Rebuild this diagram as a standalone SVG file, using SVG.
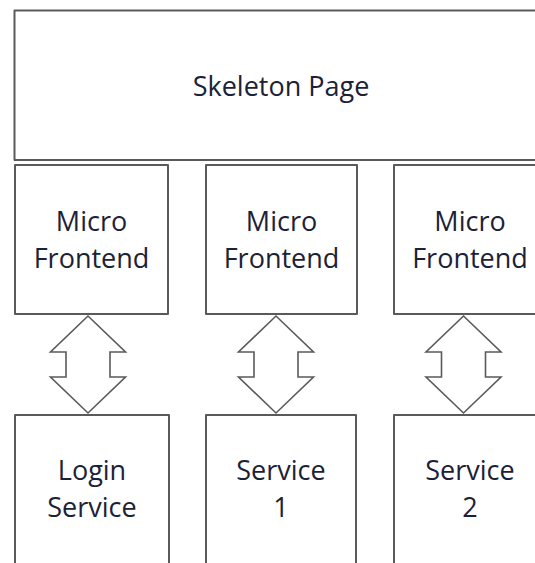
<svg xmlns="http://www.w3.org/2000/svg" width="535" height="563" viewBox="0 0 535 563">
  <style>
    .box { fill: #ffffff; stroke: #5a5a5a; stroke-width: 2; stroke-linejoin: round; }
    .link { fill: #ffffff; stroke: #5a5a5a; stroke-width: 1.6; stroke-linejoin: miter; }
    .label { font-family: "Open Sans", "Liberation Sans", sans-serif; font-size: 27px; fill: #1c2236; text-anchor: middle; }
  </style>
  <defs>
    <!-- double-headed block arrow, centred on x = 0 -->
    <polygon id="biArrow" class="link" points="0,316 -37.5,352 -22,352 -22,377 -37.5,377 0,413 37.5,377 22,377 22,352 37.5,352"/>
  </defs>
  <rect width="535" height="563" fill="#ffffff"/>

  <g id="skeleton-page">
    <rect class="box" x="14.5" y="10.5" width="534" height="149.5"/>
    <text class="label" x="281" y="96">Skeleton Page</text>
  </g>

  <g id="micro-frontend-1">
    <rect class="box" x="15" y="165" width="153" height="149"/>
    <text class="label" x="91.5" y="231">Micro</text>
    <text class="label" x="91.5" y="268">Frontend</text>
  </g>
  <g id="micro-frontend-2">
    <rect class="box" x="206" y="165" width="151" height="149"/>
    <text class="label" x="281.5" y="231">Micro</text>
    <text class="label" x="281.5" y="268">Frontend</text>
  </g>
  <g id="micro-frontend-3">
    <rect class="box" x="394" y="165" width="152" height="149"/>
    <text class="label" x="470" y="231">Micro</text>
    <text class="label" x="470" y="268">Frontend</text>
  </g>

  <g id="connectors">
    <use href="#biArrow" x="88"/>
    <use href="#biArrow" x="276"/>
    <use href="#biArrow" x="463.5"/>
  </g>

  <g id="login-service">
    <rect class="box" x="15" y="415" width="154" height="160"/>
    <text class="label" x="92" y="480">Login</text>
    <text class="label" x="92" y="517">Service</text>
  </g>
  <g id="service-1">
    <rect class="box" x="206" y="415" width="150" height="160"/>
    <text class="label" x="281" y="480">Service</text>
    <text class="label" x="281" y="517">1</text>
  </g>
  <g id="service-2">
    <rect class="box" x="394" y="415" width="152" height="160"/>
    <text class="label" x="470" y="480">Service</text>
    <text class="label" x="470" y="517">2</text>
  </g>
</svg>
